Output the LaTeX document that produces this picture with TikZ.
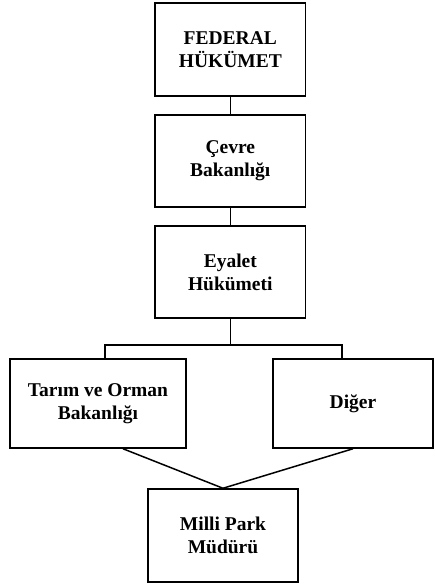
\documentclass[tikz,border=0pt]{standalone}
\usepackage{fontspec}
\setmainfont{Liberation Serif}
\begin{document}
\begin{tikzpicture}[x=1pt,y=-1pt,
  box/.style={draw=black, line width=1.5pt, rectangle, align=center,
    font=\fontsize{19.5}{23}\selectfont\bfseries, inner sep=0pt},
  conn/.style={draw=black, line width=1.5pt}]
\useasboundingbox (0,0) rectangle (435,584);
\node[box, minimum width=150.7pt, minimum height=93pt] (fed) at (230.3,49.5) {FEDERAL\\HÜKÜMET};
\node[box, minimum width=150.7pt, minimum height=92pt] (cev) at (230.3,161) {Çevre\\Bakanlığı};
\node[box, minimum width=150.7pt, minimum height=92pt] (eya) at (230.3,272) {Eyalet\\Hükümeti};
\node[box, minimum width=176pt, minimum height=89pt] (tar) at (98,403.5) {Tarım ve Orman\\Bakanlığı};
\node[box, minimum width=160pt, minimum height=89pt] (dig) at (353,403.5) {Diğer};
\node[box, minimum width=150pt, minimum height=93pt] (mil) at (223,535.5) {Milli Park\\Müdürü};
\coordinate (bl) at (105,345);
\coordinate (br) at (342,345);
\draw[conn] (fed.south) -- (cev.north);
\draw[conn] (cev.south) -- (eya.north);
\draw[conn] (eya.south) -- (eya.south |- bl);
\draw[conn] (bl |- tar.north) -- (bl) -- (br) -- (br |- dig.north);
\draw[conn] ([xshift=25pt]tar.south) -- (mil.north);
\draw[conn] (dig.south) -- (mil.north);
\end{tikzpicture}
\end{document}
